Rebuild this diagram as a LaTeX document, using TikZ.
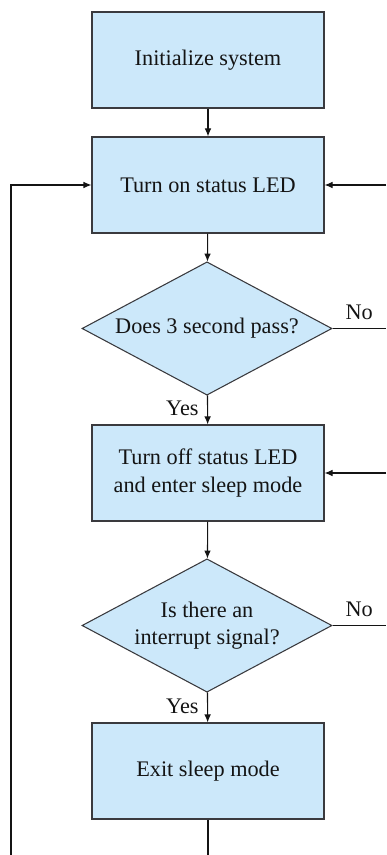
\documentclass[tikz,border=0pt]{standalone}
\usepackage{fontspec}
\setmainfont{Liberation Serif}
\usetikzlibrary{shapes.geometric,arrows.meta}

\definecolor{boxfill}{RGB}{204,232,250}
\definecolor{boxline}{RGB}{58,58,62}
\definecolor{ink}{RGB}{20,20,20}

\begin{document}
\begin{tikzpicture}[x=0.75pt,y=-0.75pt,
    every node/.style={font=\fontsize{16.7}{20.5}\selectfont, text=ink},
    stepbox/.style={draw=boxline, line width=0.8pt, fill=boxfill, rectangle,
        minimum width=174pt, minimum height=72pt, inner sep=0pt, align=center},
    ask/.style={draw=boxline, line width=0.8pt, fill=boxfill, diamond, aspect=1.875,
        minimum width=187.5pt, minimum height=100pt, inner sep=0pt, align=center},
    flow/.style={draw=ink, line width=0.8pt, -{Latex[length=6pt,width=5pt]}},
    wire/.style={draw=ink, line width=0.8pt}]

                \def \mid {208}
                \def \edge {386} % right border of the page, loops leave here
                \def \low {855}

                \useasboundingbox (0,0) rectangle (\edge,\low);

                \node[stepbox] at (\mid,60) (init) {Initialize system};
                \node[stepbox] at (\mid,185) (ledon) {Turn on status LED};
                \node[ask] at (207,328.5) (wait) {Does 3 second pass?};
                \node[stepbox] at (\mid,473) (sleep) {Turn off status LED\\and enter sleep mode};
                \node[ask] at (207,625.5) (intr) {Is there an\\interrupt signal?};
                \node[stepbox] at (\mid,771) (wake) {Exit sleep mode};

                \path[flow] (init) -- (ledon);
                \path[flow] (ledon) -- (wait);
                \path[flow] (wait) -- node [left, pos=0.45, xshift=-3pt] {Yes} (sleep);
                \path[flow] (sleep) -- (intr);
                \path[flow] (intr) -- node [left, pos=0.45, xshift=-3pt] {Yes} (wake);

                % the "No" loops run past the right border
                \foreach \q/\t in {wait/ledon, intr/sleep}
                {
                    \coordinate (\q out) at (\edge,0 |- \q.east);
                    \coordinate (\t in) at (\edge,0 |- \t.east);
                    \path[wire] (\q.east) -- node [above, pos=0.5, yshift=3pt] {No} (\q out);
                    \path[flow] (\t in) -- (\t.east);
                }

                % back loop, closes below the page
                \coordinate (down) at (\mid,\low);
                \coordinate (up) at (11,\low);
                \path[wire] (wake) -- (down);
                \path[flow] (up) |- (ledon.west);

            \end{tikzpicture}
\end{document}
